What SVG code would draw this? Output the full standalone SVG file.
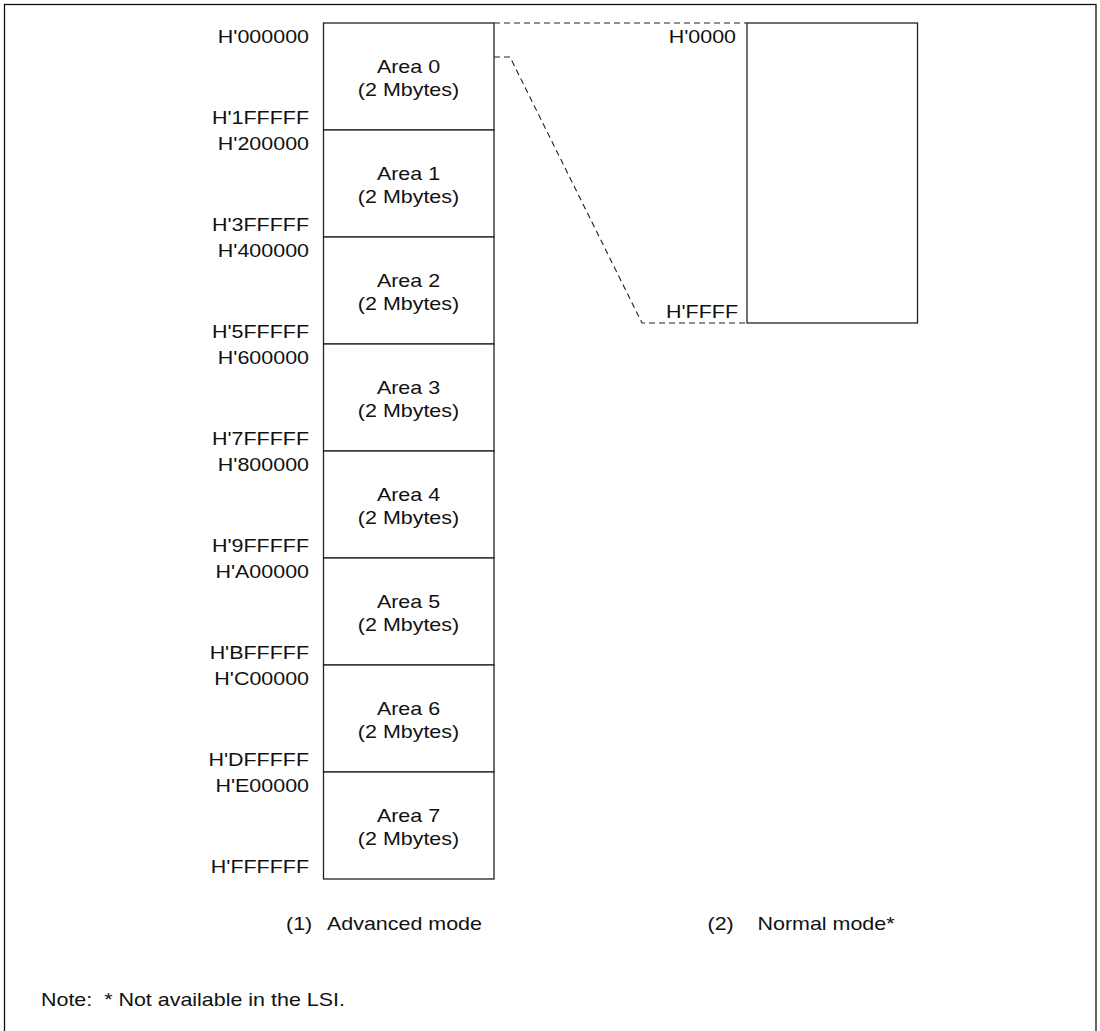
<svg xmlns="http://www.w3.org/2000/svg" width="1100" height="1031" viewBox="0 0 1100 1031">
<style>
  text { font-family: "Liberation Sans", Arial, sans-serif; font-size: 18.5px; fill: #111; white-space: pre; }
  .end { text-anchor: end; }
  .mid { text-anchor: middle; }
  .box { fill: #fff; stroke: #222; stroke-width: 1.3; }
  .dash { fill: none; stroke: #222; stroke-width: 1.1; stroke-dasharray: 6 4; }
  .frame { fill: none; stroke: #111; stroke-width: 1.3; }
</style>
<rect x="0" y="0" width="1100" height="1031" fill="#fff"/>
<rect class="frame" x="4.5" y="4.5" width="1091.5" height="1040"/>

<g id="connectors">
  <line class="dash" x1="494" y1="23" x2="747" y2="23"/>
  <polyline class="dash" points="494,57 510,57 642,323 747,323"/>
</g>

<g id="area0">
  <rect class="box" x="323.5" y="23" width="170.5" height="107"/>
  <text class="mid" transform="translate(408.5,72.7) scale(1.16,1)">Area 0</text>
  <text class="mid" transform="translate(408.5,96.3) scale(1.16,1)">(2 Mbytes)</text>
  <text class="end" transform="translate(309,42.7) scale(1.16,1)">H'000000</text>
  <text class="end" transform="translate(309,123.7) scale(1.16,1)">H'1FFFFF</text>
</g>
<g id="area1">
  <rect class="box" x="323.5" y="130" width="170.5" height="107"/>
  <text class="mid" transform="translate(408.5,179.7) scale(1.16,1)">Area 1</text>
  <text class="mid" transform="translate(408.5,203.3) scale(1.16,1)">(2 Mbytes)</text>
  <text class="end" transform="translate(309,149.7) scale(1.16,1)">H'200000</text>
  <text class="end" transform="translate(309,230.7) scale(1.16,1)">H'3FFFFF</text>
</g>
<g id="area2">
  <rect class="box" x="323.5" y="237" width="170.5" height="107"/>
  <text class="mid" transform="translate(408.5,286.7) scale(1.16,1)">Area 2</text>
  <text class="mid" transform="translate(408.5,310.3) scale(1.16,1)">(2 Mbytes)</text>
  <text class="end" transform="translate(309,256.7) scale(1.16,1)">H'400000</text>
  <text class="end" transform="translate(309,337.7) scale(1.16,1)">H'5FFFFF</text>
</g>
<g id="area3">
  <rect class="box" x="323.5" y="344" width="170.5" height="107"/>
  <text class="mid" transform="translate(408.5,393.7) scale(1.16,1)">Area 3</text>
  <text class="mid" transform="translate(408.5,417.3) scale(1.16,1)">(2 Mbytes)</text>
  <text class="end" transform="translate(309,363.7) scale(1.16,1)">H'600000</text>
  <text class="end" transform="translate(309,444.7) scale(1.16,1)">H'7FFFFF</text>
</g>
<g id="area4">
  <rect class="box" x="323.5" y="451" width="170.5" height="107"/>
  <text class="mid" transform="translate(408.5,500.7) scale(1.16,1)">Area 4</text>
  <text class="mid" transform="translate(408.5,524.3) scale(1.16,1)">(2 Mbytes)</text>
  <text class="end" transform="translate(309,470.7) scale(1.16,1)">H'800000</text>
  <text class="end" transform="translate(309,551.7) scale(1.16,1)">H'9FFFFF</text>
</g>
<g id="area5">
  <rect class="box" x="323.5" y="558" width="170.5" height="107"/>
  <text class="mid" transform="translate(408.5,607.7) scale(1.16,1)">Area 5</text>
  <text class="mid" transform="translate(408.5,631.3) scale(1.16,1)">(2 Mbytes)</text>
  <text class="end" transform="translate(309,577.7) scale(1.16,1)">H'A00000</text>
  <text class="end" transform="translate(309,658.7) scale(1.16,1)">H'BFFFFF</text>
</g>
<g id="area6">
  <rect class="box" x="323.5" y="665" width="170.5" height="107"/>
  <text class="mid" transform="translate(408.5,714.7) scale(1.16,1)">Area 6</text>
  <text class="mid" transform="translate(408.5,738.3) scale(1.16,1)">(2 Mbytes)</text>
  <text class="end" transform="translate(309,684.7) scale(1.16,1)">H'C00000</text>
  <text class="end" transform="translate(309,765.7) scale(1.16,1)">H'DFFFFF</text>
</g>
<g id="area7">
  <rect class="box" x="323.5" y="772" width="170.5" height="107"/>
  <text class="mid" transform="translate(408.5,821.7) scale(1.16,1)">Area 7</text>
  <text class="mid" transform="translate(408.5,845.3) scale(1.16,1)">(2 Mbytes)</text>
  <text class="end" transform="translate(309,791.7) scale(1.16,1)">H'E00000</text>
  <text class="end" transform="translate(309,872.7) scale(1.16,1)">H'FFFFFF</text>
</g>

<g id="normal-space">
  <rect class="box" x="747" y="23" width="170.5" height="300"/>
  <text class="end" transform="translate(736,42.7) scale(1.16,1)">H'0000</text>
  <text class="end" transform="translate(738,318.3) scale(1.16,1)">H'FFFF</text>
</g>

<g id="captions">
  <text transform="translate(286,930) scale(1.16,1)">(1)</text>
  <text transform="translate(327,930) scale(1.16,1)">Advanced mode</text>
  <text transform="translate(707.5,930) scale(1.16,1)">(2)</text>
  <text transform="translate(757.5,930) scale(1.16,1)">Normal mode*</text>
</g>

<g id="note">
  <text transform="translate(41,1005.5) scale(1.16,1)">Note:  * Not available in the LSI.</text>
</g>
</svg>
